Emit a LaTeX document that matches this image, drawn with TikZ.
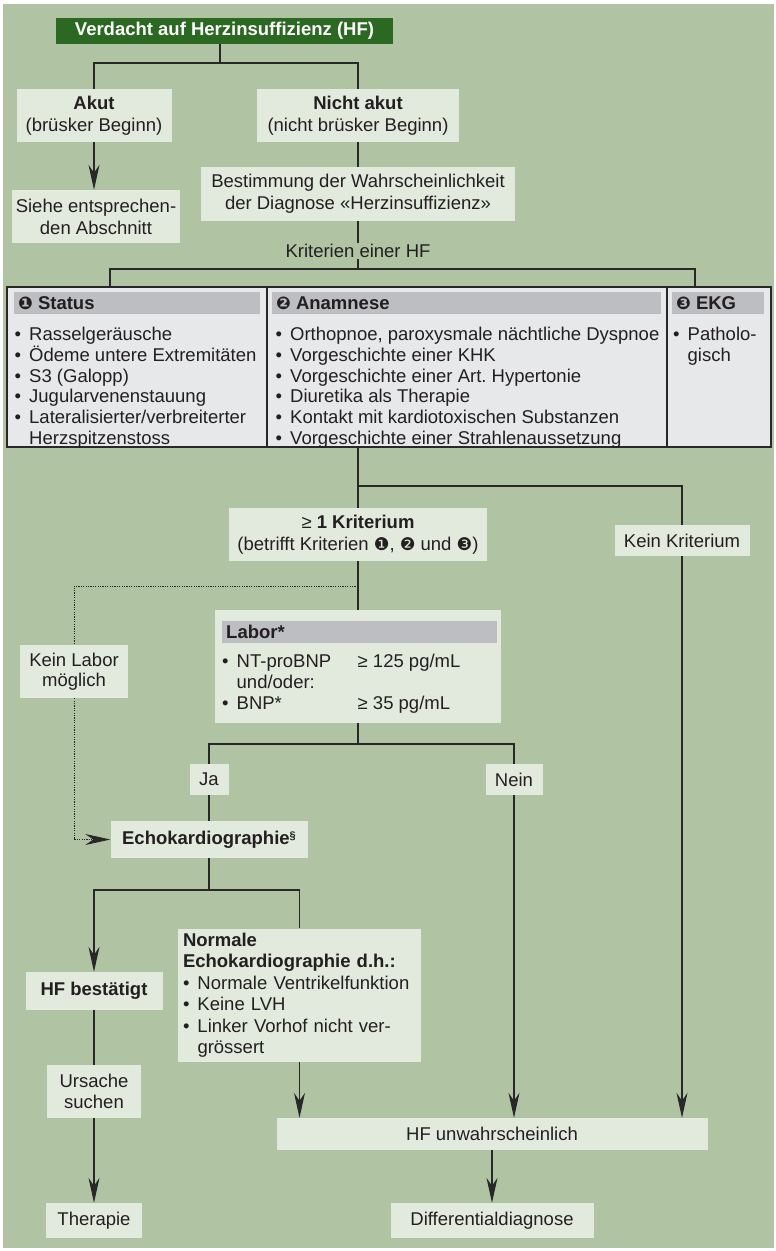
\documentclass[tikz,border=0pt]{standalone}
\usepackage{fontspec}
\setmainfont{Liberation Sans}
\newfontfamily\dingfont{DejaVu Sans}
\definecolor{hfbg}{RGB}{176,196,164}
\definecolor{hfbox}{RGB}{226,234,222}
\definecolor{hftable}{RGB}{231,232,233}
\definecolor{hfhead}{RGB}{189,190,193}
\definecolor{hftitle}{RGB}{43,104,33}
\definecolor{hfline}{RGB}{40,40,40}
\definecolor{hftext}{RGB}{35,31,32}
\usetikzlibrary{arrows.meta}
\newcommand{\circnum}[1]{{\dingfont\fontsize{17.5}{17.5}\selectfont#1}}
\newcommand{\bul}{\makebox[14.5pt][l]{•}}
\newcommand{\hang}{\hspace*{14.5pt}}

\begin{document}
\frenchspacing
\begin{tikzpicture}[x=1pt,y=-1pt,
  box/.style={fill=hfbox,text=hftext,inner sep=0pt,align=center,font=\fontsize{18.5}{22}\selectfont},
  headbar/.style={fill=hfhead,text=hftext,inner xsep=4pt,inner ysep=0pt,minimum height=22pt,align=left,font=\fontsize{18.5}{22}\selectfont\bfseries},
  items/.style={inner sep=0pt,align=left,text=hftext,font=\fontsize{18.5}{20.7}\selectfont},
  conn/.style={draw=hfline,line width=1.1pt},
  arr/.style={conn,-{Stealth[length=25pt,width=11pt,inset=8pt]}},
  dotconn/.style={draw=hfline,line width=0.9pt,dash pattern=on 1.2pt off 1.2pt}]
  %% Canvas
  \useasboundingbox (0,0) rectangle (776,1251);
  \fill[white] (0,0) rectangle (776,1251);
  \fill[hfbg] (3,4) rectangle (774,1248);
  %% Top: suspicion, acute / not acute
  \node[box,fill=hftitle,text=white,font=\fontsize{18.5}{22}\selectfont\bfseries,minimum width=337pt,minimum height=26pt] (title) at (224.5,31) {Verdacht auf Herzinsuffizienz (HF)};
  \node[box,minimum width=155pt,minimum height=53pt] (akut) at (94,115.5) {\textbf{Akut}\\(brüsker Beginn)};
  \node[box,minimum width=202pt,minimum height=53pt] (nichtakut) at (358,115.5) {\textbf{Nicht akut}\\(nicht brüsker Beginn)};
  \node[box,minimum width=168pt,minimum height=53pt] (siehe) at (96,216.5) {Siehe entsprechen-\\den Abschnitt};
  \node[box,minimum width=314pt,minimum height=54pt] (bestimmung) at (358,194) {Bestimmung der Wahrscheinlichkeit\\der Diagnose «Herzinsuffizienz»};
  \node[text=hftext,font=\fontsize{18.5}{22}\selectfont,inner xsep=2pt,inner ysep=1pt] (kritlabel) at (358,251) {Kriterien einer HF};
  %% Criteria table
  \node[fill=hftable,draw=hfline,line width=1.1pt,minimum width=764pt,minimum height=160pt,inner sep=0pt] (crit) at (389,367) {};
  \draw[conn] (267,287) -- (267,447);
  \draw[conn] (667,287) -- (667,447);
  \node[headbar,text width=238pt,anchor=west] (statushead) at (14,303) {\circnum{❶}\hspace{5pt}Status};
  \node[headbar,text width=381pt,anchor=west] (anamhead) at (272,303) {\circnum{❷}\hspace{5pt}Anamnese};
  \node[headbar,text width=84pt,anchor=west] (ekghead) at (672,303) {\circnum{❸}\hspace{5pt}EKG};
  \node[items,anchor=north west] (statusitems) at (14.5,327) {\bul Rasselgeräusche\\\bul Ödeme untere Extremitäten\\\bul S3 (Galopp)\\\bul Jugularvenenstauung\\\bul Lateralisierter/verbreiterter\\\hang Herzspitzenstoss};
  \node[items,anchor=north west] (anamitems) at (275.5,327) {\bul Orthopnoe, paroxysmale nächtliche Dyspnoe\\\bul Vorgeschichte einer KHK\\\bul Vorgeschichte einer Art. Hypertonie\\\bul Diuretika als Therapie\\\bul Kontakt mit kardiotoxischen Substanzen\\\bul Vorgeschichte einer Strahlenaussetzung};
  \node[items,anchor=north west] (ekgitems) at (673,327) {\bul Patholo-\\\hang gisch};
  %% Criterion / lab
  \node[box,minimum width=258pt,minimum height=53pt] (kriterium) at (358,534.5) {≥ \textbf{1 Kriterium}\\(betrifft Kriterien \circnum{❶}, \circnum{❷} und \circnum{❸})};
  \node[box,minimum width=135pt,minimum height=31pt] (keinkrit) at (682,540.5) {Kein Kriterium};
  \node[box,minimum width=286pt,minimum height=113pt] (labor) at (358,666.5) {};
  \node[headbar,text width=267pt,anchor=west] (laborhead) at (222,632) {Labor*};
  \node[items,anchor=north west] (laboritems) at (222,654) {\bul\makebox[121pt][l]{NT-proBNP}≥ 125 pg/mL\\\hang und/oder:\\\bul\makebox[121pt][l]{BNP*}≥ 35 pg/mL};
  \node[box,minimum width=108pt,minimum height=53pt,font=\fontsize{18.5}{20}\selectfont] (keinlabor) at (74,671.5) {Kein Labor\\möglich};
  \node[box,minimum width=39pt,minimum height=31pt] (ja) at (209,779.5) {Ja};
  \node[box,minimum width=57pt,minimum height=31pt] (nein) at (514,779.5) {Nein};
  %% Echo and outcomes
  \node[box,minimum width=197pt,minimum height=37pt] (echo) at (209,839.5) {\textbf{Echokardiographie}\raisebox{5pt}{\fontsize{11}{11}\selectfont\bfseries §}};
  \node[box,minimum width=137pt,minimum height=38pt,font=\fontsize{18.5}{22}\selectfont\bfseries] (hfbest) at (94,991) {HF bestätigt};
  \node[box,minimum width=243pt,minimum height=133pt,text width=233pt,inner xsep=5pt,align=left,font=\fontsize{18.5}{21.5}\selectfont] (normale) at (299.5,995) {\textbf{Normale}\\\textbf{Echokardiographie d.h.:}\\\bul Normale Ventrikelfunktion\\\bul Keine LVH\\\bul Linker Vorhof nicht ver-\\\hang grössert};
  \node[box,minimum width=94pt,minimum height=53pt,font=\fontsize{18.5}{21}\selectfont] (ursache) at (94,1091.5) {Ursache\\suchen};
  \node[box,minimum width=96pt,minimum height=35pt] (therapie) at (94,1220.5) {Therapie};
  \node[box,minimum width=431pt,minimum height=32pt] (hfunw) at (492,1134) {HF unwahrscheinlich};
  \node[box,minimum width=203pt,minimum height=35pt] (diff) at (492,1220.5) {Differentialdiagnose};
  %% Connectors
  \coordinate (akutsplit) at (220,63);
  \draw[conn] (title.south -| akutsplit) -- (akutsplit);
  \draw[conn] (akut.north) |- (akutsplit) -| (nichtakut.north);
  \draw[arr] (akut.south) -- (akut.south |- siehe.north);
  \draw[conn] (nichtakut) -- (bestimmung);
  \draw[conn] (bestimmung) -- (kritlabel);
  \coordinate (kritsplit) at (358,269);
  \coordinate (kritleft) at (110,269);
  \coordinate (kritright) at (695,269);
  \draw[conn] (kritlabel) -- (kritsplit);
  \draw[conn] (kritleft |- crit.north) -- (kritleft) -- (kritright) -- (kritright |- crit.north);
  \coordinate (posplit) at (358,486);
  \draw[conn] (crit.south -| posplit) -- (kriterium.north);
  \draw[conn] (posplit) -| (keinkrit.north);
  \draw[arr] (keinkrit.south) -- (keinkrit.south |- hfunw.north);
  \draw[conn] (kriterium) -- (labor);
  \coordinate (dotsplit) at (358,586);
  \draw[dotconn] (dotsplit) -| (keinlabor.north);
  \draw[dotconn,-{Stealth[length=25pt,width=11pt,inset=8pt]}] (keinlabor.south) |- (echo.west);
  \coordinate (labsplit) at (358,744);
  \draw[conn] (labor.south) -- (labsplit);
  \draw[conn] (ja.north) |- (labsplit) -| (nein.north);
  \draw[conn] (ja) -- (echo);
  \draw[arr] (nein.south) -- (nein.south |- hfunw.north);
  \coordinate (echosplit) at (209,890);
  \draw[conn] (echo.south) -- (echosplit);
  \draw[arr] (echosplit) -| (hfbest.north);
  \draw[conn] (echosplit) -| (normale.north);
  \draw[conn] (hfbest) -- (ursache);
  \draw[arr] (ursache) -- (therapie);
  \draw[arr] (normale.south) -- (normale.south |- hfunw.north);
  \draw[arr] (hfunw) -- (diff);
\end{tikzpicture}
\end{document}
